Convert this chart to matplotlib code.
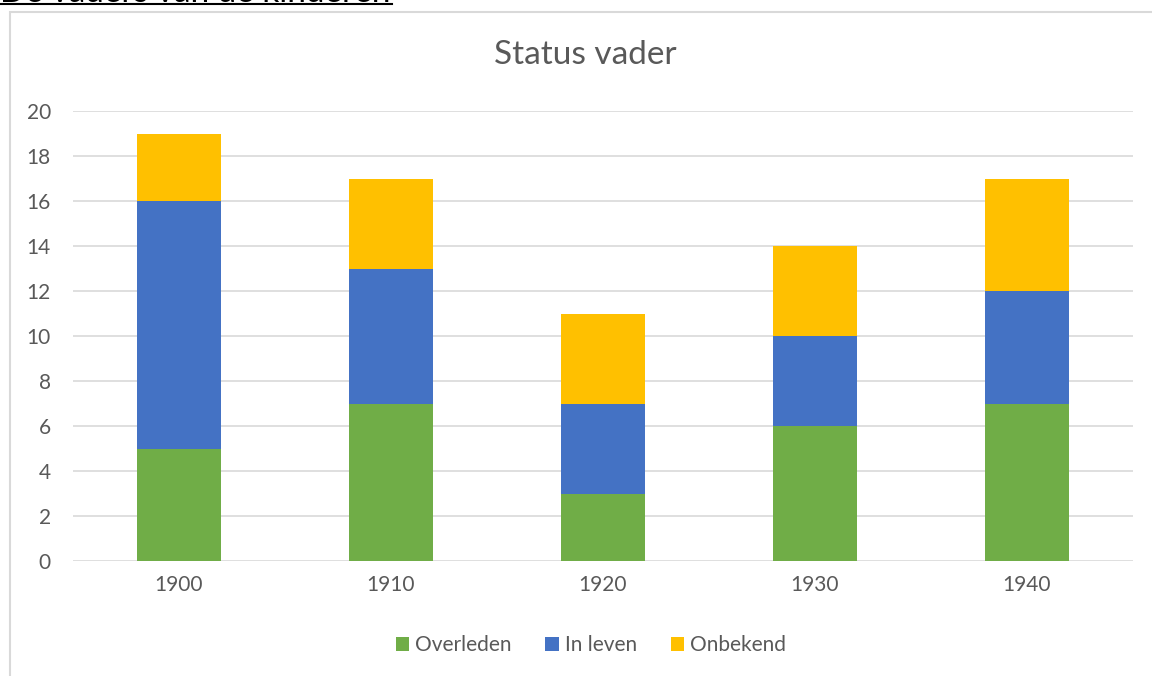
import numpy as np
import matplotlib.pyplot as plt
from matplotlib.patches import Rectangle
from matplotlib.lines import Line2D

years = ['1900', '1910', '1920', '1930', '1940']
overleden = [5, 7, 3, 6, 7]
in_leven = [11, 6, 4, 4, 5]
onbekend = [3, 4, 4, 4, 5]

plt.rcParams['font.family'] = ['Lato', 'DejaVu Sans']
txt = '#595959'
grid = '#D9D9D9'

fig = plt.figure(figsize=(11.52, 6.76), dpi=100)

# clipped heading above the chart
fig.text(0.0, 1 - 2/676, 'De vaders van de kinderen', fontsize=24, color='black',
         va='baseline', ha='left')
fig.add_artist(Line2D([0, 392/1152], [1 - 4/676, 1 - 4/676], color='black', lw=1.5,
                      transform=fig.transFigure))

# chart frame
fig.add_artist(Rectangle((10/1152, -0.05), 1.2, 1 - 12/676 + 0.05, transform=fig.transFigure,
                         fill=False, edgecolor=grid, lw=1.5))

ax = fig.add_axes([73/1152, 115/676, 1060/1152, 450/676])
x = np.arange(len(years))
w = 0.4
b1 = np.array(overleden)
b2 = b1 + np.array(in_leven)
ax.bar(x, overleden, w, color='#70AD47', label='Overleden', zorder=3)
ax.bar(x, in_leven, w, bottom=b1, color='#4472C4', label='In leven', zorder=3)
ax.bar(x, onbekend, w, bottom=b2, color='#FFC000', label='Onbekend', zorder=3)

ax.set_xlim(-0.5, len(years) - 0.5)
ax.set_ylim(0, 20)
ax.set_yticks(range(0, 21, 2))
ax.set_xticks(x)
ax.set_xticklabels(years)
ax.yaxis.grid(True, color=grid, lw=1.2, zorder=0)
for s in ax.spines.values():
    s.set_visible(False)
ax.tick_params(length=0, colors=txt, labelsize=15)
ax.tick_params(axis='y', pad=16)
ax.tick_params(axis='x', pad=10)

# title centred on the chart area, as in the original
fig.text(585/1152, 1 - 55/676, 'Status vader', fontsize=24, color=txt,
         ha='center', va='center')

leg = fig.legend(*ax.get_legend_handles_labels(), loc='center', bbox_to_anchor=(591/1152, 1 - 645/676),
                 ncol=3, frameon=False, fontsize=15, labelcolor=txt, handlelength=0.65,
                 handleheight=0.65, handletextpad=0.3, columnspacing=1.6)

fig.savefig('out.png', dpi=100)
